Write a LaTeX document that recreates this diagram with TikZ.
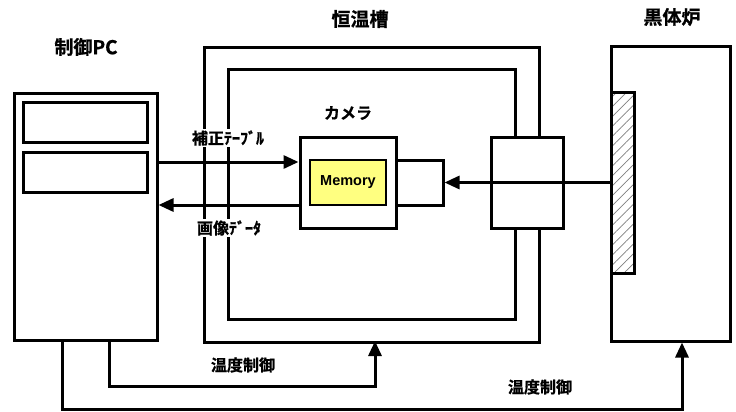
\documentclass[tikz,border=0pt]{standalone}
\usepackage{fontspec}
\setmainfont{Liberation Sans}
\newfontfamily\jp{Noto Sans CJK JP}[BoldFont={* Bold}, BoldFeatures={FakeBold=0.8}]
\usetikzlibrary{arrows.meta,patterns.meta,calc}
\definecolor{memyellow}{RGB}{255,255,128}
\tikzset{
  wall/.style={line width=3pt, line join=miter},
  box/.style={draw, line width=3pt, rectangle, inner sep=0pt, fill=white},
  arr/.style={line width=3pt, -{Triangle[length=15pt,width=13pt]}},
  title/.style={font=\jp\bfseries\fontsize{19}{19}\selectfont, inner sep=1pt},
  lbl/.style={font=\jp\bfseries\fontsize{16}{16}\selectfont, inner sep=1pt, fill=white},
}
\begin{document}
\begin{tikzpicture}[x=1pt,y=1pt]
\useasboundingbox (0,0) rectangle (736,-412);
% thermostatic chamber walls
\node[box, minimum width=72pt, minimum height=91pt] (win) at (527,-182.5) {};
\draw[wall] ($(win.north)+(12,0)$) |- (204,-48) |- ($(win.south)+(12,-113)$) -- ($(win.south)+(12,0)$);
\draw[wall] ($(win.north)+(-12,0)$) |- (228,-70) |- ($(win.south)+(-12,-90)$) -- ($(win.south)+(-12,0)$);
\coordinate (chb) at (375,-341);
% PC
\node[box, minimum width=143pt, minimum height=247pt] (pc) at (85.5,-216.5) {};
\node[box, minimum width=124pt, minimum height=40pt] (pc1) at (85,-122) {};
\node[box, minimum width=124pt, minimum height=40pt] (pc2) at (85,-172) {};
% camera
\node[box, minimum width=47pt, minimum height=45pt] (lens) at (419.5,-182.5) {};
\node[box, minimum width=96pt, minimum height=91pt] (cam) at (348,-182.5) {};
\node[draw, line width=2pt, fill=memyellow, minimum width=76pt, minimum height=45pt, inner sep=0pt,
  font=\bfseries\fontsize{14.5}{14.5}\selectfont] (mem) at (348,-182.5) {Memory};
% blackbody
\node[box, minimum width=119pt, minimum height=294pt] (bb) at (670.5,-194) {};
\node[draw, line width=3pt, inner sep=0pt, minimum width=23pt, minimum height=181pt,
  pattern={Lines[angle=45,distance=7pt,line width=0.7pt]}, pattern color=gray] (hatch) at (622.5,-182.5) {};
% titles
\node[title] (tpc) at (86,-47) {制御PC};
\node[title] (tch) at (360,-19) {恒温槽};
\node[title] (tbb) at (672,-17) {黒体炉};
\node[lbl, fill=none] (tcam) at (348,-113) {カメラ};
% labels
\node[lbl] (l1) at (228,-138) {補正ﾃｰﾌﾞﾙ};
\node[lbl] (l2) at (229,-228) {画像ﾃﾞｰﾀ};
\node[lbl] (l3) at (243,-365) {温度制御};
\node[lbl] (l4) at (540,-387) {温度制御};
% arrows
\coordinate (t1) at ($(cam.west)+(0,20.5)$);
\coordinate (t2) at ($(cam.west)+(0,-22.5)$);
\draw[arr] (pc.east |- t1) -- (t1);
\draw[arr] (t2) -- (pc.east |- t2);
\draw[arr] (hatch.west) -- (lens.east);
\draw[arr] ($(pc.south)+(23.5,0)$) -- ++(0,-45) -| (chb);
\draw[arr] ($(pc.south)+(-23.5,0)$) -- ++(0,-68) -| ($(bb.south)+(11.5,0)$);
\end{tikzpicture}
\end{document}
